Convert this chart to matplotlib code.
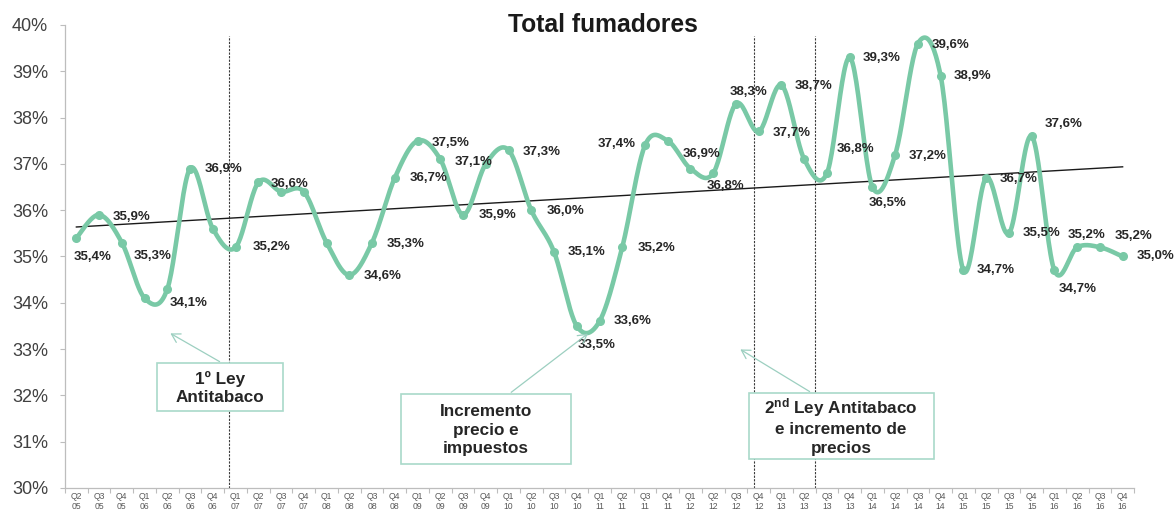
import numpy as np
import matplotlib
matplotlib.use("Agg")
import matplotlib.pyplot as plt
from matplotlib.patches import Rectangle, FancyArrowPatch

plt.rcParams['font.family'] = ['Liberation Sans', 'DejaVu Sans']
plt.rcParams['mathtext.fontset'] = 'custom'
plt.rcParams['mathtext.rm'] = 'Liberation Sans'
plt.rcParams['mathtext.bf'] = 'Liberation Sans:bold'

# ---------------- data ----------------
quarters = ["Q2\n05", "Q3\n05", "Q4\n05",
            "Q1\n06", "Q2\n06", "Q3\n06", "Q4\n06",
            "Q1\n07", "Q2\n07", "Q3\n07", "Q4\n07",
            "Q1\n08", "Q2\n08", "Q3\n08", "Q4\n08",
            "Q1\n09", "Q2\n09", "Q3\n09", "Q4\n09",
            "Q1\n10", "Q2\n10", "Q3\n10", "Q4\n10",
            "Q1\n11", "Q2\n11", "Q3\n11", "Q4\n11",
            "Q1\n12", "Q2\n12", "Q3\n12", "Q4\n12",
            "Q1\n13", "Q2\n13", "Q3\n13", "Q4\n13",
            "Q1\n14", "Q2\n14", "Q3\n14", "Q4\n14",
            "Q1\n15", "Q2\n15", "Q3\n15", "Q4\n15",
            "Q1\n16", "Q2\n16", "Q3\n16", "Q4\n16"]

smokers = [35.4, 35.9, 35.3,
           34.1, 34.3, 36.9, 35.6,
           35.2, 36.6, 36.4, 36.4,
           35.3, 34.6, 35.3, 36.7,
           37.5, 37.1, 35.9, 37.0,
           37.3, 36.0, 35.1, 33.5,
           33.6, 35.2, 37.4, 37.5,
           36.9, 36.8, 38.3, 37.7,
           38.7, 37.1, 36.8, 39.3,
           36.5, 37.2, 39.6, 38.9,
           34.7, 36.7, 35.5, 37.6,
           34.7, 35.2, 35.2, 35.0]

# indices of points that carry a data label
labeled = [0, 1, 2, 3, 5, 7, 8, 12, 13, 14, 15, 16, 17, 19, 20, 21, 22, 23,
           24, 25, 27, 28, 29, 30, 31, 33, 34, 35, 36, 37, 38, 39, 40, 41,
           42, 43, 44, 45, 46]

yticks = [30, 31, 32, 33, 34, 35, 36, 37, 38, 39, 40]

# event markers (position on the category axis)
event_x = [6.72, 29.8, 32.47]

# ---------------- style / layout ----------------
W, H = 1174, 509
LINE = '#79C9A6'
BOXEDGE = '#A9D9CA'
ARROW = '#9CCFC0'
TXT = '#262626'
AXC = '#BDBDBD'

# label offsets in pixels (dx right, dy down) relative to the point
label_off = {0: (16, 19), 1: (32, 2), 2: (31, 13), 3: (44, 5), 5: (33, 0),
             7: (36, 0), 8: (31, 2), 12: (33, 1), 13: (34, 1), 14: (34, 0),
             15: (33, 2), 16: (33, 3), 17: (34, 0), 19: (33, 2), 20: (34, 1),
             21: (33, 0), 22: (20, 19), 23: (33, 0), 24: (34, 1),
             25: (-28, -1), 27: (11, -15), 28: (12, 13), 29: (13, -12),
             30: (33, 2), 31: (32, 1), 33: (29, -24), 34: (32, 1),
             35: (15, 16), 36: (32, 1), 37: (33, 1), 38: (32, 0),
             39: (32, 0), 40: (32, 1), 41: (33, 0), 42: (32, -12),
             43: (23, 19), 44: (9, -12), 45: (34, -11), 46: (33, 0)}


def smooth(x, y, n=24):
    """Excel-like smoothed line (Catmull-Rom as cubic Bezier)."""
    P = np.column_stack([x, y]).astype(float)
    Pe = np.vstack([P[0], P, P[-1]])
    out = []
    for i in range(len(P) - 1):
        p0, p1, p2, p3 = Pe[i], Pe[i + 1], Pe[i + 2], Pe[i + 3]
        c1 = p1 + (p2 - p0) / 6.0
        c2 = p2 - (p3 - p1) / 6.0
        t = np.linspace(0, 1, n, endpoint=(i == len(P) - 2))[:, None]
        seg = ((1 - t) ** 3) * p1 + 3 * ((1 - t) ** 2) * t * c1 \
            + 3 * (1 - t) * (t ** 2) * c2 + (t ** 3) * p2
        out.append(seg)
    return np.vstack(out)


def figpx(px, py):
    return (px / W, 1 - py / H)


fig = plt.figure(figsize=(W / 100, H / 100), dpi=100)
ax = fig.add_axes([65 / W, 21 / H, (1134 - 65) / W, (488 - 25) / H])

x = np.arange(len(smokers))
y = np.array(smokers)

# trend line
coef = np.polyfit(x, y, 1)
ax.plot([x[0], x[-1]], np.polyval(coef, [x[0], x[-1]]), color='#1a1a1a',
        lw=1.0, zorder=2)

# smoothed series
curve = smooth(x, y)
ax.plot(curve[:, 0], curve[:, 1], color=LINE, lw=3.3, solid_capstyle='round',
        zorder=3)
ax.plot(x, y, 'o', color=LINE, ms=5.5, zorder=4)

# event lines
for ex in event_x:
    ax.plot([ex, ex], [30, 39.77], color='#3a3a3a', lw=0.8,
            linestyle=(0, (2.0, 1.2)), zorder=1)

# data labels
for i in labeled:
    dx, dy = label_off[i]
    ax.annotate(f"{smokers[i]:.1f}%".replace('.', ','), (x[i], y[i]),
                xytext=(dx, -dy), textcoords='offset pixels',
                ha='center', va='center', fontsize=9.5, fontweight='bold',
                color=TXT, zorder=6)

# axes formatting
ax.set_xlim(-0.5, len(smokers) - 0.5)
ax.set_ylim(30, 40)
ax.set_yticks(yticks)
ax.set_yticklabels([f"{v}%" for v in yticks])
ax.set_xticks(x)
ax.set_xticklabels(quarters, fontsize=6.2, color='#595959', linespacing=1.15)
ax.set_xticks(np.arange(-0.5, len(smokers), 1.0), minor=True)
ax.tick_params(axis='x', which='major', length=0, pad=3)
ax.tick_params(axis='x', which='minor', length=3.5, color=AXC, width=0.8)
ax.tick_params(axis='y', which='major', length=3.6, color=AXC, width=0.8,
               pad=8.5, labelsize=13, labelcolor='#404040')
for s in ['top', 'right']:
    ax.spines[s].set_visible(False)
for s in ['left', 'bottom']:
    ax.spines[s].set_color(AXC)
    ax.spines[s].set_linewidth(0.9)

# title
fig.text(*figpx(603, 25), "Total fumadores", ha='center', va='center',
         fontsize=17.7, fontweight='bold', color='#1a1a1a')

# annotation boxes
boxes = [
    ((157, 363, 283, 411), "1º Ley\nAntitabaco", (220, 388)),
    ((401, 394, 571, 464), "Incremento\nprecio e\nimpuestos", (486, 430)),
    ((749, 393, 934, 459),
     "$\\mathbf{2^{nd}}$ Ley Antitabaco\ne incremento de\nprecios", (841, 426)),
]
for (x0, y0, x1, y1), txt, (cx, cy) in boxes:
    fx0, fy1 = figpx(x0, y1)
    fig.patches.append(Rectangle((fx0, fy1), (x1 - x0) / W, (y1 - y0) / H,
                                 transform=fig.transFigure, facecolor='white',
                                 edgecolor=BOXEDGE, lw=1.2, zorder=5))
    fig.text(*figpx(cx, cy), txt, ha='center', va='center', fontsize=12.3,
             fontweight='bold', color=TXT, linespacing=1.28, zorder=7)

arrows = [((222, 363), (168, 332)),
          ((509, 394), (590, 332)),
          ((812, 393), (738, 348))]
for (sx, sy), (tx, ty) in arrows:
    fig.add_artist(FancyArrowPatch(
        figpx(sx, sy), figpx(tx, ty), transform=fig.transFigure,
        arrowstyle='->,head_length=6,head_width=3.5', color=ARROW, lw=0.9,
        mutation_scale=1, zorder=4))

fig.savefig("out.png", dpi=100)
